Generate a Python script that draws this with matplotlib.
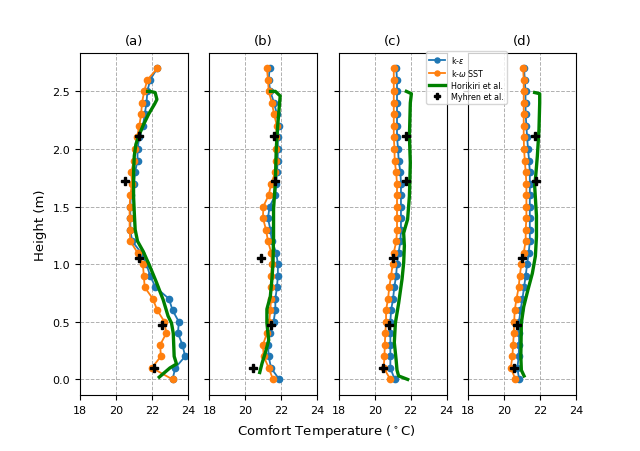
import numpy as np
import matplotlib
matplotlib.use("Agg")
import matplotlib.pyplot as plt

heights = [round(0.1 * i, 1) for i in range(28)]
panels = ["(a)", "(b)", "(c)", "(d)"]

# k-epsilon (blue), one list per case
ke = [
    [23.15, 23.3, 23.85, 23.7, 23.45, 23.5, 23.15, 22.95, 22.2, 21.9, 21.7, 21.4, 20.9, 20.8,
     20.8, 20.8, 20.83, 21.0, 21.07, 21.2, 21.2, 21.3, 21.5, 21.6, 21.7, 21.75, 21.9, 22.3],
    [21.89, 21.43, 21.3, 21.26, 21.35, 21.57, 21.67, 21.67, 21.76, 21.81, 21.81, 21.72, 21.48, 21.39,
     21.26, 21.35, 21.67, 21.7, 21.76, 21.8, 21.81, 21.8, 21.85, 21.76, 21.6, 21.39, 21.3, 21.35],
    [21.11, 20.87, 20.87, 20.87, 20.87, 20.87, 20.91, 21.02, 21.09, 21.19, 21.24, 21.33, 21.43, 21.46,
     21.46, 21.46, 21.46, 21.46, 21.43, 21.33, 21.3, 21.24, 21.24, 21.24, 21.24, 21.24, 21.24, 21.2],
    [20.83, 20.74, 20.81, 20.83, 20.83, 20.83, 20.91, 21.02, 21.11, 21.2, 21.28, 21.37, 21.43, 21.43,
     21.43, 21.43, 21.43, 21.43, 21.43, 21.39, 21.33, 21.28, 21.24, 21.2, 21.19, 21.19, 21.15, 21.11],
]

# k-omega SST (orange)
kw = [
    [23.15, 22.0, 22.5, 22.46, 22.8, 22.7, 22.3, 22.05, 21.6, 21.55, 21.5, 21.2, 20.8, 20.76,
     20.76, 20.76, 20.8, 20.9, 20.85, 21.0, 21.07, 21.17, 21.3, 21.4, 21.45, 21.57, 21.75, 22.3],
    [21.54, 21.3, 21.02, 20.98, 21.2, 21.33, 21.39, 21.43, 21.44, 21.44, 21.48, 21.44, 21.26, 21.15,
     20.98, 21.0, 21.3, 21.44, 21.67, 21.72, 21.72, 21.7, 21.76, 21.6, 21.48, 21.3, 21.26, 21.2],
    [20.87, 20.5, 20.54, 20.56, 20.59, 20.63, 20.63, 20.74, 20.81, 20.91, 21.0, 21.06, 21.2, 21.24,
     21.24, 21.24, 21.24, 21.24, 21.19, 21.11, 21.1, 21.06, 21.06, 21.06, 21.06, 21.06, 21.06, 21.06],
    [20.63, 20.37, 20.46, 20.5, 20.54, 20.56, 20.59, 20.69, 20.81, 20.87, 20.96, 21.09, 21.2, 21.2,
     21.24, 21.24, 21.24, 21.24, 21.2, 21.15, 21.11, 21.09, 21.09, 21.09, 21.09, 21.09, 21.09, 21.06],
]

# Horikiri et al. (green line), temperature / height pairs
hori_t = [
    [22.41, 23.0, 23.37, 23.24, 23.19, 23.09, 22.9, 22.63, 22.26, 21.89, 21.52, 21.2, 21.07, 21.02,
     20.98, 20.98, 21.02, 21.11, 21.26, 21.5, 21.81, 22.15, 22.28, 22.18, 21.9, 21.76],
    [20.8, 20.93, 21.11, 21.3, 21.2, 21.2, 21.39, 21.48, 21.54, 21.57, 21.57, 21.67, 21.72, 21.8,
     21.89, 21.94, 21.67, 21.4],
    [21.83, 21.33, 21.24, 21.19, 21.09, 21.15, 21.33, 21.52, 21.61, 21.65, 21.61, 21.7, 21.83, 21.93,
     21.98, 21.93, 21.98, 22.04, 21.76],
    [21.11, 20.96, 20.93, 20.96, 21.09, 21.33, 21.57, 21.74, 21.8, 21.8, 21.7, 21.76, 21.85, 21.94,
     21.98, 21.98, 21.7],
]
hori_h = [
    [0.02, 0.099, 0.134, 0.2, 0.4, 0.49, 0.55, 0.69, 0.84, 0.98, 1.11, 1.2, 1.3, 1.45,
     1.59, 1.79, 1.94, 2.04, 2.11, 2.2, 2.3, 2.39, 2.43, 2.49, 2.5, 2.5],
    [0.06, 0.14, 0.23, 0.34, 0.49, 0.61, 0.72, 0.87, 1.01, 1.24, 1.48, 1.71, 2.0, 2.2,
     2.37, 2.46, 2.5, 2.5],
    [0.0, 0.03, 0.08, 0.17, 0.32, 0.49, 0.66, 0.87, 1.01, 1.16, 1.27, 1.32, 1.39, 1.59,
     1.88, 2.11, 2.4, 2.48, 2.5],
    [0.03, 0.08, 0.2, 0.49, 0.63, 0.78, 0.92, 1.07, 1.24, 1.42, 1.68, 1.77, 1.94, 2.17,
     2.4, 2.48, 2.49],
]

# Myhren et al. (black crosses)
myh_h = [0.1, 0.475, 1.055, 1.72, 2.11]
myh_t = [
    [22.13, 22.55, 21.3, 20.52, 21.26],
    [20.41, 21.43, 20.89, 21.67, 21.61],
    [20.44, 20.78, 21.02, 21.76, 21.72],
    [20.56, 20.69, 21.0, 21.76, 21.72],
]

fig, axes = plt.subplots(1, 4, sharey=True, figsize=(6.4, 4.52), dpi=100)
fig.subplots_adjust(left=0.125, right=0.9, bottom=0.124, top=0.881, wspace=0.2)

for i, ax in enumerate(axes):
    ax.plot(ke[i], heights, marker="o", ms=4.5, lw=1.3, color="tab:blue", label="k-$\\varepsilon$")
    ax.plot(kw[i], heights, marker="o", ms=4.5, lw=1.3, color="tab:orange", label="k-$\\omega$ SST")
    ax.plot(hori_t[i], hori_h[i], lw=2.4, color="green", label="Horikiri et al.")
    ax.plot(myh_t[i], myh_h, ls="none", marker="P", ms=5.5, color="black", label="Myhren et al.")
    ax.set_xlim(18, 24)
    ax.set_xticks([18, 20, 22, 24])
    ax.set_yticks([0.0, 0.5, 1.0, 1.5, 2.0, 2.5])
    ax.grid(True, ls="--", color="#b0b0b0", lw=0.7)
    ax.set_title(panels[i], fontsize=9.5)
    ax.tick_params(labelsize=8)

axes[0].set_ylabel("Height (m)", fontsize=9.5)
fig.text(0.51, 0.045, "Comfort Temperature ($^\\circ$C)", ha="center", va="center", fontsize=9.5)

h, l = axes[2].get_legend_handles_labels()
fig.legend(h, l, loc="upper left", bbox_to_anchor=(426 / 640, 1 - 52 / 452),
           borderaxespad=0, fontsize=5.8, framealpha=0.8, markerscale=0.8,
           labelspacing=0.3, borderpad=0.35)

fig.savefig("out.png", dpi=100)
